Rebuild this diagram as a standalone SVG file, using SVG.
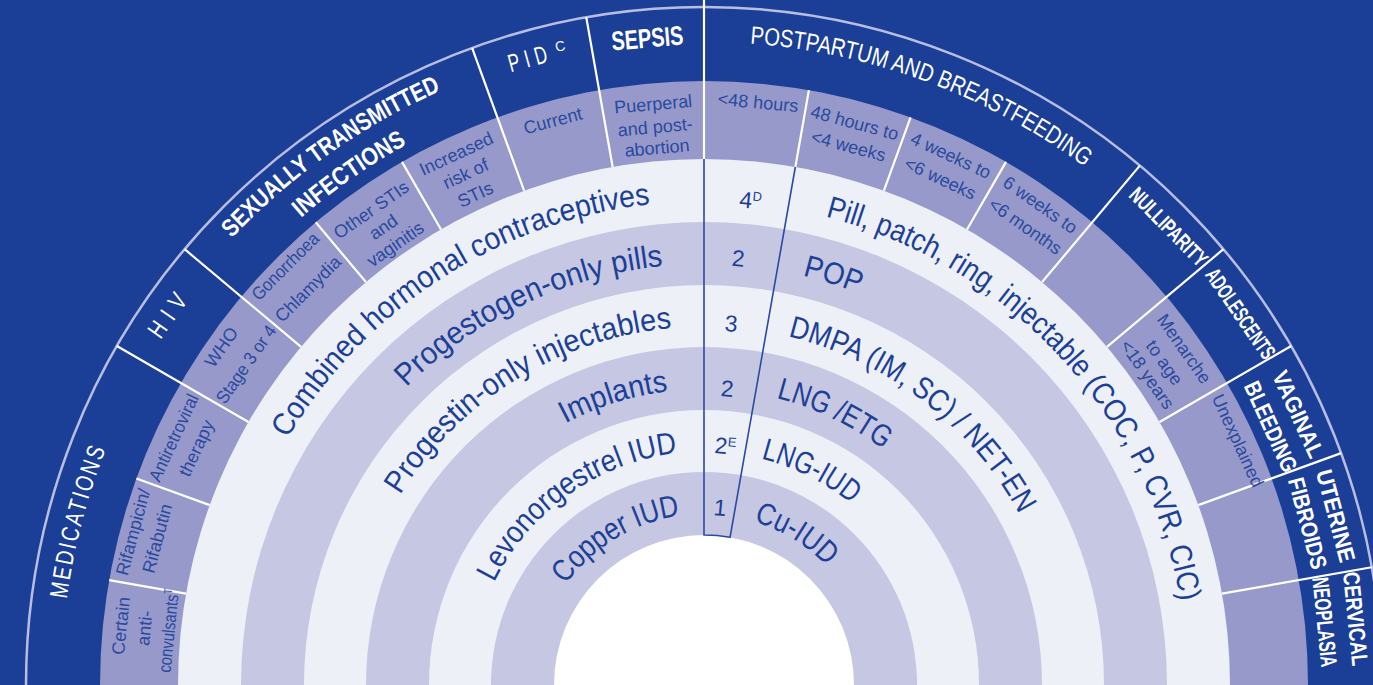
<svg xmlns="http://www.w3.org/2000/svg" width="1373" height="685" viewBox="0 0 1373 685">
<style>
.bg{fill:#1b3f96}
.dv{stroke:#fff;stroke-width:2.2}
.bl{stroke:#2a4a9e;stroke-width:1.6;fill:none}
.ring{font-family:"Liberation Sans Narrow","Liberation Sans",Arial,sans-serif;font-size:31px;fill:#1c4096}
.num{font-family:"Liberation Sans",Arial,sans-serif;font-size:23px;fill:#1c4096;text-anchor:middle}
.sup{font-size:13px}
.sub{font-family:"Liberation Sans",Arial,sans-serif;font-size:18px;fill:#2a4a9e;text-anchor:middle}
.cat{font-family:"Liberation Sans Narrow","Liberation Sans",Arial,sans-serif;font-size:25px;fill:#fff;text-anchor:middle}
.catp{font-family:"Liberation Sans Narrow","Liberation Sans",Arial,sans-serif;font-size:25px;fill:#fff}
.b{font-weight:bold}
</style>
<defs>
<path id="a484" d="M -484 0 A 484 484 0 0 1 484 0"/>
<path id="a421" d="M -421 0 A 421 421 0 0 1 421 0"/>
<path id="a358" d="M -358.5 0 A 358.5 358.5 0 0 1 358.5 0"/>
<path id="a296" d="M -296 0 A 296 296 0 0 1 296 0"/>
<path id="a233" d="M -233.5 0 A 233.5 233.5 0 0 1 233.5 0"/>
<path id="a171" d="M -171 0 A 171 171 0 0 1 171 0"/>
<path id="a643" d="M -643 0 A 643 643 0 0 1 643 0"/>
<path id="a650" d="M -650 0 A 650 650 0 0 1 650 0"/>
<path id="a617" d="M -617 0 A 617 617 0 0 1 617 0"/>
</defs>
<rect width="1373" height="685" class="bg"/>
<g transform="translate(704 685)">
<g id="rings">
<circle r="678" fill="none" stroke="#b9bde2" stroke-width="2.5"/>
<circle r="604" fill="#9799cb"/>
<circle r="526" fill="#eef0f8"/>
<circle r="463" fill="#c5c7e3"/>
<circle r="400" fill="#eef0f8"/>
<circle r="338" fill="#c5c7e3"/>
<circle r="275" fill="#eef0f8"/>
<circle r="213" fill="#c5c7e3"/>
<circle r="150" fill="#fff"/>
</g>
<g id="connectors">
<line class="dv" x1="-526" y1="0" x2="-604" y2="0" transform="rotate(10)"/>
<line class="dv" x1="-526" y1="0" x2="-604" y2="0" transform="rotate(20)"/>
<line class="dv" x1="-526" y1="0" x2="-678" y2="0" transform="rotate(30)"/>
<line class="dv" x1="-526" y1="0" x2="-678" y2="0" transform="rotate(40)"/>
<line class="dv" x1="-526" y1="0" x2="-604" y2="0" transform="rotate(50)"/>
<line class="dv" x1="-526" y1="0" x2="-604" y2="0" transform="rotate(60)"/>
<line class="dv" x1="-526" y1="0" x2="-678" y2="0" transform="rotate(70)"/>
<line class="dv" x1="-526" y1="0" x2="-678" y2="0" transform="rotate(80)"/>
<line class="dv" x1="-526" y1="0" x2="-690" y2="0" transform="rotate(90)"/>
<line class="dv" x1="-526" y1="0" x2="-604" y2="0" transform="rotate(100)"/>
<line class="dv" x1="-526" y1="0" x2="-604" y2="0" transform="rotate(110)"/>
<line class="dv" x1="-526" y1="0" x2="-604" y2="0" transform="rotate(120)"/>
<line class="dv" x1="-526" y1="0" x2="-678" y2="0" transform="rotate(130)"/>
<line class="dv" x1="-526" y1="0" x2="-678" y2="0" transform="rotate(140)"/>
<line class="dv" x1="-526" y1="0" x2="-678" y2="0" transform="rotate(150)"/>
<line class="dv" x1="-526" y1="0" x2="-678" y2="0" transform="rotate(160)"/>
<line class="dv" x1="-526" y1="0" x2="-678" y2="0" transform="rotate(170)"/>
<path class="bl" d="M 0 -526 L 0 -150 A 150 150 0 0 1 26.05 -147.72 L 91.34 -518.01"/>
</g>
<g id="methods-left">
<text class="ring"><textPath href="#a484" startOffset="258.5" textLength="447.7" lengthAdjust="spacingAndGlyphs">Combined hormonal contraceptives</textPath></text>
<text class="ring"><textPath href="#a421" startOffset="330.7" textLength="289.5" lengthAdjust="spacingAndGlyphs">Progestogen-only pills</textPath></text>
<text class="ring"><textPath href="#a358" startOffset="200.2" textLength="330.4" lengthAdjust="spacingAndGlyphs">Progestin-only injectables</textPath></text>
<text class="ring"><textPath href="#a296" startOffset="320.3" textLength="108.5" lengthAdjust="spacingAndGlyphs">Implants</textPath></text>
<text class="ring"><textPath href="#a233" startOffset="106" textLength="233.9" lengthAdjust="spacingAndGlyphs">Levonorgestrel IUD</textPath></text>
<text class="ring"><textPath href="#a171" startOffset="107.4" textLength="137" lengthAdjust="spacingAndGlyphs">Copper IUD</textPath></text>
</g>
<g id="methods-right">
<text class="ring"><textPath href="#a484" startOffset="882.8" textLength="553.3" lengthAdjust="spacingAndGlyphs">Pill, patch, ring, injectable (COC, P, CVR, CIC)</textPath></text>
<text class="ring"><textPath href="#a421" startOffset="760.5" textLength="58.8" lengthAdjust="spacingAndGlyphs">POP</textPath></text>
<text class="ring"><textPath href="#a358" startOffset="647.6" textLength="300.3" lengthAdjust="spacingAndGlyphs">DMPA (IM, SC) / NET-EN</textPath></text>
<text class="ring"><textPath href="#a296" startOffset="537.8" textLength="119.3" lengthAdjust="spacingAndGlyphs">LNG /ETG</textPath></text>
<text class="ring"><textPath href="#a233" startOffset="424.2" textLength="101.9" lengthAdjust="spacingAndGlyphs">LNG-IUD</textPath></text>
<text class="ring"><textPath href="#a171" startOffset="319" textLength="86.6" lengthAdjust="spacingAndGlyphs">Cu-IUD</textPath></text>
</g>
<g id="numbers">
<text class="num" transform="rotate(5.5)" y="-479">4<tspan class="sup" dy="-8">D</tspan></text>
<text class="num" transform="rotate(4.6)" y="-420">2</text>
<text class="num" transform="rotate(4.3)" y="-354.5">3</text>
<text class="num" transform="rotate(4.5)" y="-289.5">2</text>
<text class="num" transform="rotate(5.1)" y="-232">2<tspan class="sup" dy="-8">E</tspan></text>
<text class="num" transform="rotate(5.2)" y="-170">1</text>
</g>
<g id="medications">
<text class="catp" letter-spacing="3"><textPath href="#a643" startOffset="86.4" textLength="157" lengthAdjust="spacingAndGlyphs">MEDICATIONS</textPath></text>
<text class="sub" transform="rotate(-84.2)"><tspan x="0" y="-580">Certain</tspan><tspan x="0" y="-556">anti-</tspan><tspan x="0" y="-532" textLength="84" lengthAdjust="spacingAndGlyphs">convulsants<tspan style="font-size:11px" dy="-7">T</tspan></tspan></text>
<text class="sub" transform="rotate(-75)"><tspan x="0" y="-585">Rifampicin/</tspan><tspan x="0" y="-560">Rifabutin</tspan></text>
<text class="sub" transform="rotate(-65)"><tspan x="0" y="-579" textLength="94" lengthAdjust="spacingAndGlyphs">Antiretroviral</tspan><tspan x="0" y="-554">therapy</tspan></text>
</g>
<g id="hiv">
<text class="cat" transform="rotate(-55.1)" y="-643" letter-spacing="10" textLength="56" lengthAdjust="spacingAndGlyphs">HIV</text>
<text class="sub" transform="rotate(-55)"><tspan x="0" y="-583">WHO</tspan><tspan x="0" y="-553" textLength="91" lengthAdjust="spacingAndGlyphs">Stage 3 or 4</tspan></text>
</g>
<g id="sti">
<text class="catp b"><textPath href="#a650" startOffset="492.4" textLength="257.5" lengthAdjust="spacingAndGlyphs">SEXUALLY TRANSMITTED</textPath></text>
<text class="catp b"><textPath href="#a617" startOffset="529.8" textLength="129.2" lengthAdjust="spacingAndGlyphs">INFECTIONS</textPath></text>
<text class="sub" transform="rotate(-45)"><tspan x="0" y="-586" textLength="87" lengthAdjust="spacingAndGlyphs">Gonorrhoea</tspan><tspan x="0" y="-554">Chlamydia</tspan></text>
<text class="sub" transform="rotate(-35)"><tspan x="0" y="-574">Other STIs</tspan><tspan x="0" y="-553">and</tspan><tspan x="0" y="-532">vaginitis</tspan></text>
<text class="sub" transform="rotate(-25)"><tspan x="0" y="-580">Increased</tspan><tspan x="0" y="-558">risk of</tspan><tspan x="0" y="-535">STIs</tspan></text>
</g>
<g id="pid">
<text class="cat" transform="rotate(-15.5)" y="-642" letter-spacing="8" textLength="45" lengthAdjust="spacingAndGlyphs">PID</text>
<text class="cat" transform="rotate(-12.7)" y="-650" style="font-size:14px">C</text>
<text class="sub" transform="rotate(-15)" y="-578">Current</text>
</g>
<g id="sepsis">
<text class="cat b" transform="rotate(-5)" y="-640" style="font-size:27px" textLength="72" lengthAdjust="spacingAndGlyphs">SEPSIS</text>
<text class="sub" transform="rotate(-5)"><tspan x="0" y="-577">Puerperal</tspan><tspan x="0" y="-554">and post-</tspan><tspan x="0" y="-533">abortion</tspan></text>
</g>
<g id="postpartum">
<text class="catp"><textPath href="#a643" startOffset="1056" textLength="361.4" lengthAdjust="spacingAndGlyphs">POSTPARTUM AND BREASTFEEDING</textPath></text>
<text class="sub" transform="rotate(5.3)" y="-579">&lt;48 hours</text>
<text class="sub" transform="rotate(15)"><tspan x="0" y="-576">48 hours to</tspan><tspan x="0" y="-552">&lt;4 weeks</tspan></text>
<text class="sub" transform="rotate(25)"><tspan x="0" y="-578">4 weeks to</tspan><tspan x="0" y="-553">&lt;6 weeks</tspan></text>
<text class="sub" transform="rotate(35)"><tspan x="0" y="-580">6 weeks to</tspan><tspan x="0" y="-554">&lt;6 months</tspan></text>
</g>
<g id="nulliparity">
<text class="cat b" transform="rotate(45.4)" y="-645" style="font-size:22px" textLength="101" lengthAdjust="spacingAndGlyphs">NULLIPARITY</text>
</g>
<g id="adolescents">
<text class="cat b" transform="rotate(55.3)" y="-645" style="font-size:22px" textLength="105" lengthAdjust="spacingAndGlyphs">ADOLESCENTS</text>
<text class="sub" transform="rotate(55)"><tspan x="0" y="-580">Menarche</tspan><tspan x="0" y="-556">to age</tspan><tspan x="0" y="-535">&lt;18 years</tspan></text>
</g>
<g id="vaginal-bleeding">
<text class="cat b" transform="rotate(65.5)" y="-645" style="font-size:23px" textLength="93" lengthAdjust="spacingAndGlyphs">VAGINAL</text>
<text class="cat b" transform="rotate(65.5)" y="-615" style="font-size:23px" textLength="97" lengthAdjust="spacingAndGlyphs">BLEEDING</text>
<text class="sub" transform="rotate(65.4)" y="-581">Unexplained</text>
</g>
<g id="uterine-fibroids">
<text class="cat b" transform="rotate(75)" y="-646" style="font-size:23px" textLength="95" lengthAdjust="spacingAndGlyphs">UTERINE</text>
<text class="cat b" transform="rotate(75)" y="-617" style="font-size:23px" textLength="94" lengthAdjust="spacingAndGlyphs">FIBROIDS</text>
</g>
<g id="cervical-neoplasia">
<text class="cat b" transform="rotate(84.2)" y="-647" style="font-size:23px" textLength="94" lengthAdjust="spacingAndGlyphs">CERVICAL</text>
<text class="cat b" transform="rotate(84.2)" y="-616" style="font-size:23px" textLength="90" lengthAdjust="spacingAndGlyphs">NEOPLASIA</text>
</g>
</g>
</svg>
